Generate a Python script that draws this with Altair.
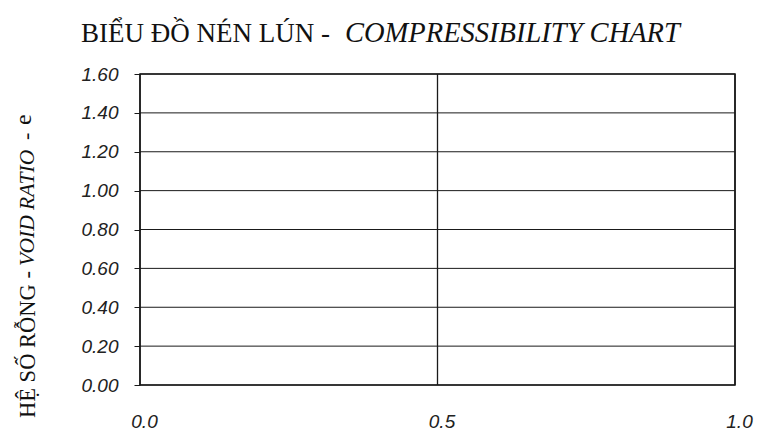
import altair as alt
import pandas as pd

# --- data ---------------------------------------------------------------
x_ticks = [0.0, 0.5, 1.0]
y_ticks = [0.0, 0.2, 0.4, 0.6, 0.8, 1.0, 1.2, 1.4, 1.6]
x_domain = [0.0, 1.0]
y_domain = [0.0, 1.6]

title_vi = "BIỂU ĐỒ NÉN LÚN -"
title_en = "COMPRESSIBILITY CHART"
ytitle_vi = "HỆ SỐ RỖNG -"
ytitle_en = "VOID RATIO"
ytitle_dash = "-"
ytitle_sym = "e"

W, H = 595, 311
LINE = "#1a1a1a"
SERIF = "Liberation Serif"
SANS = "Liberation Sans"

xs = alt.Scale(domain=x_domain, nice=False, zero=False)
ys = alt.Scale(domain=y_domain, nice=False, zero=False)

hgrid = alt.Chart(pd.DataFrame({"y": y_ticks})).mark_rule(
    color=LINE, strokeWidth=1
).encode(
    y=alt.Y("y:Q", scale=ys, axis=alt.Axis(
        values=y_ticks, format=".2f", title=None, grid=False, domain=False,
        ticks=True, tickSize=6, tickColor=LINE, tickWidth=1,
        labelFont=SANS, labelFontStyle="italic", labelFontSize=19,
        labelColor="#222", labelPadding=16,
    ))
)

vgrid = alt.Chart(pd.DataFrame({"x": x_ticks})).mark_rule(
    color=LINE, strokeWidth=1.3
).encode(
    x=alt.X("x:Q", scale=xs, axis=alt.Axis(
        values=x_ticks, format=".1f", title=None, grid=False, domain=False,
        ticks=False, labelFont=SANS, labelFontStyle="italic", labelFontSize=19,
        labelColor="#222", labelPadding=27, labelOffset=4,
        labelFlush=False,
    ))
)

def txt(s, x, y, size, style="normal", align="left", angle=0, baseline="alphabetic"):
    kw = dict(font=SERIF, fontSize=size, fontStyle=style, align=align,
              baseline=baseline, color="#111")
    if angle:
        kw["angle"] = angle
    return alt.Chart(pd.DataFrame({"t": [s]})).mark_text(**kw).encode(
        text="t:N", x=alt.value(x), y=alt.value(y)
    )

t1 = txt(title_vi, 190, -32, 27, align="right")
t2 = txt(title_en, 205, -32, 28.5, style="italic", align="left")

yt1 = txt(ytitle_vi, -112, 344, 22.5, align="left", angle=270, baseline="middle")
yt2 = txt(ytitle_en, -112, 192, 21.5, style="italic", align="left", angle=270, baseline="middle")
yt3 = txt(ytitle_dash, -114, 66, 22, align="left", angle=270, baseline="middle")
yt4 = txt(ytitle_sym, -116, 51, 24, align="left", angle=270, baseline="middle")

chart = alt.layer(hgrid, vgrid, t1, t2, yt1, yt2, yt3, yt4).properties(
    width=W, height=H,
    autosize="none",
    padding={"left": 132, "top": 66, "right": 25, "bottom": 46},
    background="white",
).configure_view(
    stroke=LINE, strokeWidth=1.6
)

chart.save("out.html", embed_options={"renderer": "svg", "actions": False})
